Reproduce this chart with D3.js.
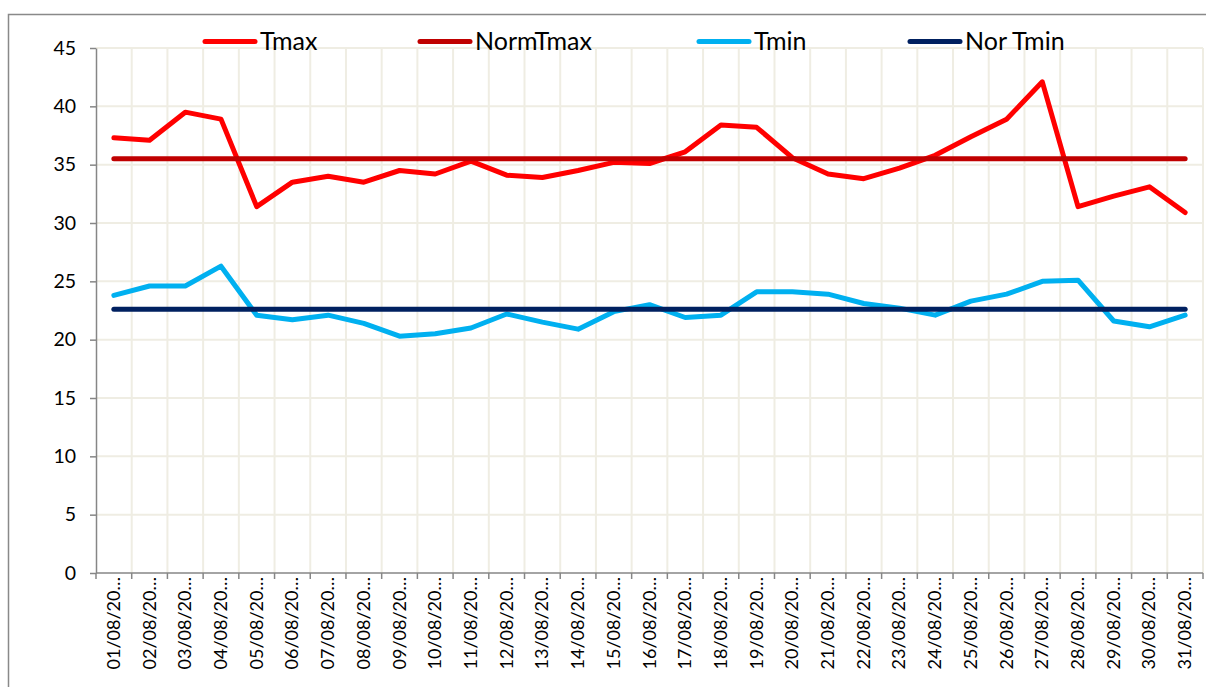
<!DOCTYPE html>
<html>
<head>
<meta charset="utf-8">
<script src="https://cdn.jsdelivr.net/npm/d3@7"></script>
<style>
  body { margin: 0; background: #fff; }
  text { font-family: Lato, "Liberation Sans", sans-serif; fill: #000; }
</style>
</head>
<body>
<script>
// data
const days = ["01/08/20…","02/08/20…","03/08/20…","04/08/20…","05/08/20…","06/08/20…","07/08/20…","08/08/20…","09/08/20…","10/08/20…",
  "11/08/20…","12/08/20…","13/08/20…","14/08/20…","15/08/20…","16/08/20…","17/08/20…","18/08/20…","19/08/20…","20/08/20…",
  "21/08/20…","22/08/20…","23/08/20…","24/08/20…","25/08/20…","26/08/20…","27/08/20…","28/08/20…","29/08/20…","30/08/20…","31/08/20…"];

const tmax = [37.3, 37.1, 39.5, 38.9, 31.4, 33.5, 34.0, 33.5, 34.5, 34.2,
  35.3, 34.1, 33.9, 34.5, 35.2, 35.1, 36.1, 38.4, 38.2, 35.6,
  34.2, 33.8, 34.7, 35.8, 37.4, 38.9, 42.1, 31.4, 32.3, 33.1, 30.9];

const normTmax = days.map(function() { return 35.5; });

const tmin = [23.8, 24.6, 24.6, 26.3, 22.1, 21.7, 22.1, 21.4, 20.3, 20.5,
  21.0, 22.2, 21.5, 20.9, 22.4, 23.0, 21.9, 22.1, 24.1, 24.1,
  23.9, 23.1, 22.7, 22.1, 23.3, 23.9, 25.0, 25.1, 21.6, 21.1, 22.1];

const norTmin = days.map(function() { return 22.6; });

const yTicks = [0, 5, 10, 15, 20, 25, 30, 35, 40, 45];

const series = [
  {name: "Tmax", values: tmax, color: "#FF0000"},
  {name: "NormTmax", values: normTmax, color: "#C00000"},
  {name: "Tmin", values: tmin, color: "#00B0F0"},
  {name: "Nor Tmin", values: norTmin, color: "#002060"}
];

// left edge of each legend entry
const legendX = [203, 418, 697, 908];

var width = 1206;
var height = 687;

const margin = {left: 96, top: 48, right: 3, bottom: 114};

var svg = d3.select("body").append("svg")
      .attr("width", width)
      .attr("height", height);

// outer chart frame (runs past the right and bottom edges)
svg.append("rect")
    .attr("x", 8.5)
    .attr("y", 14.5)
    .attr("width", width + 20)
    .attr("height", height + 20)
    .attr("fill", "none")
    .attr("stroke", "#898989")
    .attr("stroke-width", 1.5);

var x = d3.scaleBand()
    .domain(days)
    .range([margin.left, width - margin.right])
    .padding(0);

var y = d3.scaleLinear()
    .domain([0, 45])
    .range([height - margin.bottom, margin.top]);

var grid = svg.append("g").attr("class", "grid");

// horizontal gridlines
grid.selectAll(".hgrid")
  .data(yTicks.filter(function(d) { return d > 0; }))
  .join("line")
    .attr("x1", margin.left)
    .attr("x2", width - margin.right)
    .attr("y1", function(d) { return y(d); })
    .attr("y2", function(d) { return y(d); })
    .attr("stroke", "#EFEDE3")
    .attr("stroke-width", 2);

// vertical gridlines at category boundaries
grid.selectAll(".vgrid")
  .data(days)
  .join("line")
    .attr("x1", function(d) { return x(d) + x.bandwidth(); })
    .attr("x2", function(d) { return x(d) + x.bandwidth(); })
    .attr("y1", y(45))
    .attr("y2", y(0))
    .attr("stroke", "#EFEDE3")
    .attr("stroke-width", 2);

// **** y axis *****************
var yAxis = svg.append("g")
    .attr("transform", "translate(" + margin.left + ",0)")
    .call(d3.axisLeft(y).tickValues(yTicks).tickSize(6).tickPadding(14).tickSizeOuter(0));

yAxis.select(".domain").attr("stroke", "#868686").attr("stroke-width", 1.5);
yAxis.selectAll(".tick line").attr("stroke", "#868686").attr("stroke-width", 1.5);
yAxis.selectAll(".tick text")
    .style("font-size", "19.5px")
    .style("font-family", "Lato, sans-serif");

// **** x axis *****************
var xAxis = svg.append("g")
    .attr("transform", "translate(0," + y(0) + ")");

xAxis.append("line")
    .attr("x1", margin.left)
    .attr("x2", width - margin.right)
    .attr("stroke", "#868686")
    .attr("stroke-width", 1.5);

xAxis.selectAll(".xtick")
  .data([null].concat(days))
  .join("line")
    .attr("x1", function(d) { return d === null ? margin.left : x(d) + x.bandwidth(); })
    .attr("x2", function(d) { return d === null ? margin.left : x(d) + x.bandwidth(); })
    .attr("y1", 0)
    .attr("y2", 6)
    .attr("stroke", "#868686")
    .attr("stroke-width", 1.5);

xAxis.selectAll(".xlabel")
  .data(days)
  .join("text")
    .attr("transform", function(d) { return "translate(" + (x(d) + x.bandwidth() / 2 + 6) + ",4) rotate(-90)"; })
    .attr("text-anchor", "end")
    .style("font-size", "18px")
    .text(function(d) { return d; });

// **** lines *****************
var line = d3.line()
    .x(function(d, i) { return x(days[i]) + x.bandwidth() / 2; })
    .y(function(d) { return y(d); });

svg.selectAll(".series")
  .data(series)
  .join("path")
    .attr("class", "series")
    .attr("d", function(d) { return line(d.values); })
    .attr("fill", "none")
    .attr("stroke", function(d) { return d.color; })
    .attr("stroke-width", 5)
    .attr("stroke-linecap", "round")
    .attr("stroke-linejoin", "round");

// **** legend *****************
var legend = svg.selectAll(".legend")
  .data(series)
  .join("g")
    .attr("class", "legend")
    .attr("transform", function(d, i) { return "translate(" + legendX[i] + ",0)"; });

legend.append("line")
    .attr("x1", 2)
    .attr("x2", 52)
    .attr("y1", 41.5)
    .attr("y2", 41.5)
    .attr("stroke", function(d) { return d.color; })
    .attr("stroke-width", 5)
    .attr("stroke-linecap", "round");

legend.append("text")
    .attr("x", 57)
    .attr("y", 49.5)
    .style("font-size", "25px")
    .text(function(d) { return d.name; });
</script>
</body>
</html>
